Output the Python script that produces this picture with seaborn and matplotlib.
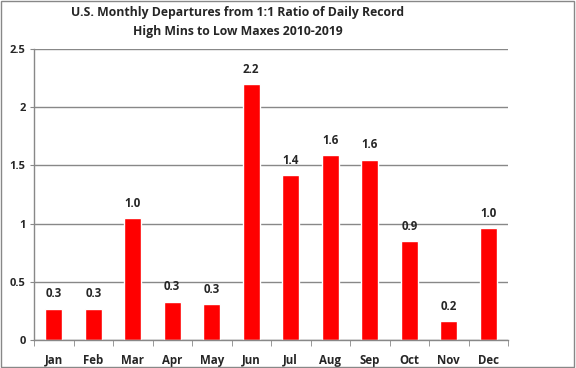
import matplotlib
matplotlib.use("Agg")
import matplotlib.pyplot as plt
import seaborn as sns
import pandas as pd

# --- data ---
months = ['Jan', 'Feb', 'Mar', 'Apr', 'May', 'Jun', 'Jul', 'Aug', 'Sep', 'Oct', 'Nov', 'Dec']
departures = [0.27, 0.27, 1.05, 0.33, 0.31, 2.20, 1.42, 1.59, 1.55, 0.85, 0.16, 0.96]
bar_labels = ['0.3', '0.3', '1.0', '0.3', '0.3', '2.2', '1.4', '1.6', '1.6', '0.9', '0.2', '1.0']
y_ticks = [0, 0.5, 1, 1.5, 2, 2.5]
y_tick_labels = ['0', '0.5', '1', '1.5', '2', '2.5']

df = pd.DataFrame({'Month': months, 'Departure': departures})

sns.set_style("white")
plt.rcParams['font.family'] = ['Open Sans', 'DejaVu Sans']

fig = plt.figure(figsize=(5.76, 3.68), dpi=100)
ax = fig.add_axes([34 / 576, 1 - 340 / 368, (508 - 34) / 576, (340 - 49) / 368])

sns.barplot(data=df, x='Month', y='Departure', color='#ff0000', saturation=1,
            width=0.43, ax=ax)

# value labels above bars
for i, (v, lab) in enumerate(zip(departures, bar_labels)):
    ax.text(i, v + 0.07, lab, ha='center', va='bottom', fontsize=8.3, fontweight='bold')

ax.set_ylim(0, 2.5)
ax.set_xlim(-0.5, len(months) - 0.5)
ax.set_yticks(y_ticks)
ax.set_yticklabels(y_tick_labels, fontsize=8, fontweight='bold')
for t in ax.get_xticklabels():
    t.set_fontsize(8.3)
    t.set_fontweight('bold')
ax.set_xlabel('')
ax.set_ylabel('')

ax.yaxis.grid(True, color='#888888', linewidth=1)
ax.set_axisbelow(True)
for side in ['top', 'right']:
    ax.spines[side].set_visible(False)
for side in ['left', 'bottom']:
    ax.spines[side].set_color('#888888')
    ax.spines[side].set_linewidth(1)

# tick marks: outward on y, between categories on x
ax.tick_params(axis='y', direction='out', length=3, color='#888888', left=True, pad=3)
ax.set_xticks([i + 0.5 for i in range(-1, len(months))], minor=True)
ax.tick_params(axis='x', which='major', length=0, pad=10)
ax.tick_params(axis='x', which='minor', direction='out', length=4, color='#888888', bottom=True)

fig.text(238 / 576, 1 - 22 / 368, 'U.S. Monthly Departures from 1:1 Ratio of Daily Record\nHigh Mins to Low Maxes 2010-2019',
         ha='center', va='center', fontsize=8.8, fontweight='bold', linespacing=1.55)

# outer frame like the original chart area
fig.patches.append(plt.Rectangle((0.002, 0.003), 0.995, 0.994, transform=fig.transFigure,
                                 fill=False, edgecolor='#888888', linewidth=1))

fig.savefig('out.png', dpi=100)
